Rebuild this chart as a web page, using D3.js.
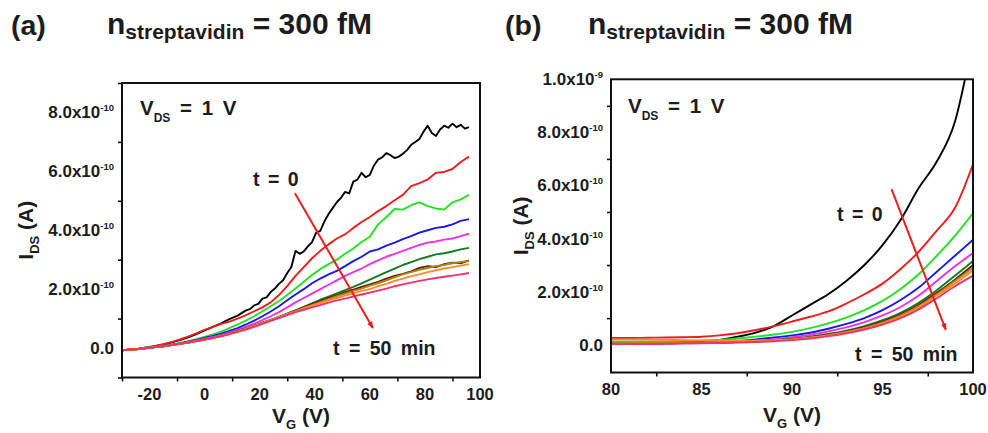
<!DOCTYPE html>
<html>
<head>
<meta charset="utf-8">
<script src="https://cdn.jsdelivr.net/npm/d3@7"></script>
<style>
  html, body { margin: 0; padding: 0; background: #fff; }
  svg text { font-family: "Liberation Sans", Arial, Helvetica, sans-serif; font-weight: bold; fill: #1c1c1c; }
</style>
</head>
<body>
<svg id="chart" width="988" height="433"></svg>
<script>
// ---- gate voltage grids (V) ----
const vgA = [-30,-27,-24,-21,-18,-15,-12,-9,-6,-3,0,3,6,9,12,15,18,21,24,27,30,33,36,39,42,45,48,51,54,57,60,63,66,69,72,75,78,81,84,87,90,93,96];
// the first sweep is noisier, so it is sampled more finely above 15 V
const vgAFirst = [-30,-27,-24,-21,-18,-15,-12,-9,-6,-3,0,3,6,9,12,15,16.5,18,19.5,21,22.5,24,25.5,27,28.5,30,31.5,33,34.5,36,37.5,39,40.5,42,43.5,45,46.5,48,49.5,51,52.5,54,55.5,57,58.5,60,61.5,63,64.5,66,67.5,69,70.5,72,73.5,75,76.5,78,79.5,81,82.5,84,85.5,87,88.5,90,91.5,93,94.5,96];
const vgB = [80,81,82,83,84,85,86,87,88,89,90,91,92,93,94,95,96,97,98,99,100];

// ---- I_DS in units of 1e-10 A, panel (a): full sweep ----
const aBlack   = [-0.08,-0.05,-0.02,0.02,0.06,0.12,0.19,0.27,0.36,0.47,0.6,0.72,0.84,0.98,1.1,1.28,1.32,1.45,1.5,1.68,1.72,1.9,2.02,2.18,2.3,2.55,2.75,3.3,3.2,3.28,3.45,3.6,3.92,3.98,4.3,4.55,4.75,4.95,5.1,5.3,5.25,5.65,5.72,5.95,5.8,5.88,6.2,6.4,6.48,6.62,6.55,6.45,6.5,6.6,6.72,6.9,7.0,7.1,7.35,7.55,7.3,7.2,7.42,7.55,7.48,7.62,7.5,7.58,7.45,7.5];
const aRed     = [-0.08,-0.05,-0.02,0.02,0.07,0.13,0.2,0.29,0.39,0.5,0.62,0.72,0.82,0.9,1.0,1.12,1.25,1.38,1.55,1.8,2.1,2.45,2.75,3.05,3.3,3.52,3.72,3.86,4.08,4.28,4.45,4.65,4.82,5.02,5.2,5.5,5.6,5.72,5.95,5.98,6.08,6.32,6.5];
const aGreen   = [-0.08,-0.05,-0.03,0.0,0.03,0.07,0.12,0.17,0.23,0.3,0.38,0.46,0.56,0.68,0.8,0.93,1.08,1.25,1.42,1.6,1.8,2.02,2.25,2.48,2.68,2.85,3.0,3.2,3.38,3.6,3.78,4.2,4.45,4.72,4.7,4.85,4.95,4.82,4.74,4.7,4.95,5.05,5.2];
const aBlue    = [-0.08,-0.05,-0.03,0.0,0.03,0.07,0.11,0.16,0.22,0.28,0.34,0.41,0.49,0.58,0.68,0.8,0.93,1.08,1.24,1.42,1.62,1.82,2.0,2.2,2.36,2.5,2.62,2.78,2.95,3.1,3.28,3.35,3.48,3.58,3.7,3.8,3.92,4.0,4.08,4.12,4.2,4.32,4.38];
const aMagenta = [-0.08,-0.05,-0.03,0.0,0.03,0.06,0.1,0.15,0.2,0.26,0.32,0.38,0.45,0.53,0.62,0.72,0.83,0.95,1.08,1.22,1.38,1.55,1.7,1.85,2.0,2.15,2.3,2.45,2.58,2.7,2.85,2.98,3.1,3.2,3.3,3.4,3.5,3.58,3.62,3.68,3.72,3.8,3.88];
const aDkGreen = [-0.08,-0.05,-0.03,0.0,0.03,0.06,0.1,0.14,0.19,0.24,0.3,0.36,0.43,0.5,0.58,0.67,0.76,0.86,0.96,1.06,1.17,1.28,1.4,1.52,1.64,1.75,1.86,1.97,2.08,2.2,2.32,2.45,2.58,2.7,2.82,2.92,3.02,3.1,3.18,3.22,3.28,3.35,3.4];
const aWine    = [-0.08,-0.05,-0.03,0.0,0.03,0.06,0.1,0.14,0.19,0.24,0.29,0.35,0.42,0.49,0.57,0.66,0.75,0.85,0.95,1.05,1.16,1.27,1.38,1.5,1.6,1.7,1.8,1.9,1.98,2.08,2.16,2.25,2.36,2.45,2.52,2.6,2.72,2.78,2.75,2.85,2.9,2.88,2.98];
const aOlive   = [-0.08,-0.05,-0.03,0.0,0.03,0.06,0.1,0.14,0.19,0.24,0.29,0.35,0.42,0.49,0.57,0.66,0.75,0.85,0.95,1.05,1.15,1.25,1.36,1.46,1.56,1.66,1.76,1.85,1.94,2.02,2.12,2.2,2.3,2.4,2.5,2.58,2.66,2.72,2.78,2.82,2.88,2.92,2.95];
const aOrange  = [-0.08,-0.05,-0.03,0.0,0.03,0.06,0.1,0.14,0.19,0.24,0.29,0.35,0.41,0.48,0.56,0.65,0.74,0.84,0.94,1.04,1.14,1.24,1.34,1.44,1.53,1.62,1.7,1.78,1.86,1.94,2.0,2.1,2.18,2.28,2.36,2.44,2.5,2.58,2.64,2.7,2.75,2.8,2.85];
const aPink    = [-0.08,-0.05,-0.03,0.0,0.03,0.06,0.1,0.14,0.19,0.24,0.29,0.34,0.4,0.47,0.55,0.63,0.72,0.82,0.92,1.02,1.12,1.22,1.3,1.38,1.46,1.54,1.62,1.68,1.75,1.82,1.88,1.95,2.02,2.1,2.16,2.22,2.28,2.33,2.38,2.42,2.46,2.5,2.55];

// ---- I_DS in units of 1e-10 A, panel (b): high-V_G detail ----
const bBlack   = [0.08,0.08,0.08,0.08,0.1,0.12,0.18,0.3,0.45,0.7,1.1,1.5,1.9,2.4,3.0,3.75,4.7,5.9,6.9,8.4,11.5];
const bRed     = [0.25,0.25,0.26,0.27,0.28,0.3,0.35,0.43,0.55,0.7,0.87,1.05,1.25,1.55,1.9,2.3,2.85,3.5,4.3,5.15,6.8];
const bGreen   = [0.12,0.12,0.12,0.12,0.13,0.15,0.18,0.23,0.3,0.38,0.48,0.62,0.8,1.02,1.3,1.65,2.1,2.65,3.35,4.1,4.95];
const bBlue    = [0.05,0.05,0.05,0.06,0.07,0.08,0.1,0.14,0.2,0.27,0.35,0.45,0.6,0.78,1.0,1.3,1.68,2.15,2.75,3.35,3.95];
const bMagenta = [0.04,0.04,0.04,0.05,0.06,0.07,0.09,0.12,0.15,0.2,0.28,0.37,0.5,0.65,0.85,1.1,1.42,1.85,2.4,2.95,3.45];
const bDkGreen = [0.05,0.05,0.05,0.05,0.06,0.07,0.08,0.1,0.13,0.17,0.22,0.3,0.4,0.53,0.7,0.92,1.2,1.58,2.05,2.6,3.15];
const bWine    = [0.05,0.05,0.05,0.05,0.06,0.07,0.08,0.1,0.12,0.16,0.2,0.28,0.38,0.5,0.66,0.87,1.14,1.5,1.95,2.45,3.0];
const bOlive   = [0.06,0.06,0.06,0.06,0.07,0.08,0.09,0.1,0.12,0.15,0.2,0.27,0.36,0.48,0.63,0.83,1.1,1.45,1.9,2.4,2.9];
const bOrange  = [0.2,0.2,0.19,0.18,0.17,0.16,0.15,0.15,0.15,0.17,0.2,0.26,0.35,0.46,0.6,0.8,1.05,1.4,1.85,2.3,2.8];
const bPink    = [0.02,0.02,0.02,0.03,0.04,0.05,0.06,0.08,0.1,0.13,0.17,0.23,0.32,0.43,0.57,0.76,1.0,1.33,1.75,2.2,2.6];

// sweep colours, first (t = 0) to last (t = 50 min)
const seriesColors = ["#000000","#ee1c1c","#22e022","#1818e6","#ee2ee8","#137a22","#6e1a12","#a08a1a","#ff8a2a","#f2306a"];

// ---- axis ticks (I in units of 1e-10 A) ----
const xTicksA = [-20,0,20,40,60,80,100];
const xMinorA = [-30,-10,10,30,50,70,90];
const yTicksA = [0,2,4,6,8];
const yMinorA = [-1,1,3,5,7,9];
const xTicksB = [80,85,90,95,100];
const xMinorB = [82.5,87.5,92.5,97.5];
const yTicksB = [0,2,4,6,8,10];
const yMinorB = [1,3,5,7,9];

// time arrows: [V_G, I] at tail and head
const arrowA = [[32.8,5.26],[61.1,0.68]];
const arrowB = [[95.5,5.86],[98.5,0.56]];

const svg = d3.select("#chart");
svg.append("rect").attr("width",988).attr("height",433).attr("fill","#fff");

const defs = svg.append("defs");
defs.append("marker").attr("id","head").attr("viewBox","0 0 10 10")
  .attr("refX",8).attr("refY",5).attr("markerWidth",4).attr("markerHeight",4)
  .attr("orient","auto")
  .append("path").attr("d","M0,1.5 L9,5 L0,8.5 z").attr("fill","#e8201c");

function tickLabel(sel, v) {
  if (v === 0) { sel.text("0.0"); return; }
  const exp = v >= 10 ? -9 : -10;
  const mant = v >= 10 ? v / 10 : v;
  sel.append("tspan").text(mant.toFixed(1) + "x10");
  sel.append("tspan").attr("font-size", 9.5).attr("dy", -7).text(String(exp));
}

function drawPanel(cfg) {
  const x = d3.scaleLinear().domain(cfg.xDomain).range([cfg.left, cfg.right]);
  const y = d3.scaleLinear().domain(cfg.yDomain).range([cfg.bottom, cfg.top]);

  defs.append("clipPath").attr("id", "clip-" + cfg.id)
    .append("rect").attr("x", cfg.left).attr("y", cfg.top)
    .attr("width", cfg.right - cfg.left).attr("height", cfg.bottom - cfg.top);

  const g = svg.append("g");
  const curves = g.append("g").attr("clip-path", `url(#clip-${cfg.id})`);
  cfg.series.forEach((s, k) => {
    const line = d3.line().x((d, i) => x(s.vg[i])).y(d => y(d)).curve(cfg.curve);
    curves.append("path").datum(s.i).attr("d", line)
      .attr("fill", "none").attr("stroke", seriesColors[k])
      .attr("stroke-width", 1.9).attr("stroke-linejoin", "round");
  });

  // bottom axis ticks
  const xg = g.append("g").attr("transform", `translate(0,${cfg.bottom})`);
  xg.call(d3.axisBottom(x).tickValues(cfg.xTicks).tickSize(7).tickSizeOuter(0).tickFormat(""));
  xg.call(d3.axisBottom(x).tickValues(cfg.xMinor).tickSize(4).tickSizeOuter(0).tickFormat(""));
  // left axis ticks
  const yg = g.append("g").attr("transform", `translate(${cfg.left},0)`);
  yg.call(d3.axisLeft(y).tickValues(cfg.yTicks).tickSize(7).tickSizeOuter(0).tickFormat(""));
  yg.call(d3.axisLeft(y).tickValues(cfg.yMinor).tickSize(4).tickSizeOuter(0).tickFormat(""));
  g.selectAll(".domain").remove();
  g.selectAll(".tick line").attr("stroke", "#111").attr("stroke-width", 1.6);

  // tick labels
  g.append("g").selectAll("text").data(cfg.xTicks).join("text")
    .attr("x", d => x(d)).attr("y", cfg.bottom + 22)
    .attr("text-anchor", "middle").attr("font-size", 16.5)
    .text(d => String(d));
  g.append("g").selectAll("text").data(cfg.yTicks).join("text")
    .attr("x", cfg.left - 8).attr("y", d => y(d) + 6)
    .attr("text-anchor", "end").attr("font-size", 17)
    .each(function (d) { tickLabel(d3.select(this), d); });

  // frame
  g.append("rect").attr("x", cfg.left).attr("y", cfg.top)
    .attr("width", cfg.right - cfg.left).attr("height", cfg.bottom - cfg.top)
    .attr("fill", "none").attr("stroke", "#111").attr("stroke-width", 2);

  // axis titles
  const xt = g.append("text").attr("x", (cfg.left + cfg.right) / 2).attr("y", cfg.xTitleY)
    .attr("text-anchor", "middle").attr("font-size", 21);
  xt.append("tspan").text("V");
  xt.append("tspan").attr("font-size", 13).attr("dy", 6).text("G");
  xt.append("tspan").attr("dy", -6).text(" (V)");

  const yt = g.append("text")
    .attr("transform", `translate(${cfg.yTitleX},${(cfg.top + cfg.bottom) / 2}) rotate(-90)`)
    .attr("text-anchor", "middle").attr("font-size", 21);
  yt.append("tspan").text("I");
  yt.append("tspan").attr("font-size", 13).attr("dy", 6).text("DS");
  yt.append("tspan").attr("dy", -6).text(" (A)");

  // V_DS note
  const vt = g.append("text").attr("x", cfg.vdsX).attr("y", cfg.vdsY)
    .attr("font-size", 20.5).attr("word-spacing", 4);
  vt.append("tspan").text("V");
  vt.append("tspan").attr("font-size", 12).attr("dy", 7).text("DS");
  vt.append("tspan").attr("dy", -7).text(" = 1 V");

  // time arrow and its end labels
  g.append("line")
    .attr("x1", x(cfg.arrow[0][0])).attr("y1", y(cfg.arrow[0][1]))
    .attr("x2", x(cfg.arrow[1][0])).attr("y2", y(cfg.arrow[1][1]))
    .attr("stroke", "#e8201c").attr("stroke-width", 2)
    .attr("marker-end", "url(#head)");
  g.append("text").attr("x", cfg.t0[0]).attr("y", cfg.t0[1])
    .attr("font-size", 19.5).attr("word-spacing", 3).text("t = 0");
  g.append("text").attr("x", cfg.t50[0]).attr("y", cfg.t50[1])
    .attr("font-size", 19.5).attr("word-spacing", 4).text("t = 50 min");

  // panel heading
  svg.append("text").attr("x", cfg.tagX).attr("y", 35).attr("font-size", 28.5).text(cfg.tag);
  const h = svg.append("text").attr("x", cfg.headX).attr("y", 34).attr("font-size", 30);
  h.append("tspan").text("n");
  h.append("tspan").attr("font-size", 21).attr("dy", 5).text("streptavidin");
  h.append("tspan").attr("dy", -5).text(" = 300 fM");
}

drawPanel({
  id: "a", tag: "(a)", tagX: 11, headX: 107,
  left: 122, right: 480, top: 83, bottom: 377.5,
  xDomain: [-30, 100], yDomain: [-1, 9],
  curve: d3.curveLinear,
  series: [
    { vg: vgAFirst, i: aBlack }, { vg: vgA, i: aRed }, { vg: vgA, i: aGreen },
    { vg: vgA, i: aBlue }, { vg: vgA, i: aMagenta }, { vg: vgA, i: aDkGreen },
    { vg: vgA, i: aWine }, { vg: vgA, i: aOlive }, { vg: vgA, i: aOrange }, { vg: vgA, i: aPink }
  ],
  xTicks: xTicksA, xMinor: xMinorA, yTicks: yTicksA, yMinor: yMinorA,
  xTitleY: 423, yTitleX: 33,
  vdsX: 140, vdsY: 115,
  arrow: arrowA, t0: [253, 186], t50: [333, 355]
});

drawPanel({
  id: "b", tag: "(b)", tagX: 505, headX: 588,
  left: 611, right: 973, top: 79.3, bottom: 372.5,
  xDomain: [80, 100], yDomain: [-1.05, 10],
  curve: d3.curveMonotoneX,
  series: [bBlack, bRed, bGreen, bBlue, bMagenta, bDkGreen, bWine, bOlive, bOrange, bPink]
    .map(v => ({ vg: vgB, i: v })),
  xTicks: xTicksB, xMinor: xMinorB, yTicks: yTicksB, yMinor: yMinorB,
  xTitleY: 422, yTitleX: 528,
  vdsX: 628, vdsY: 113,
  arrow: arrowB, t0: [837, 221], t50: [855, 361]
});
</script>
</body>
</html>
